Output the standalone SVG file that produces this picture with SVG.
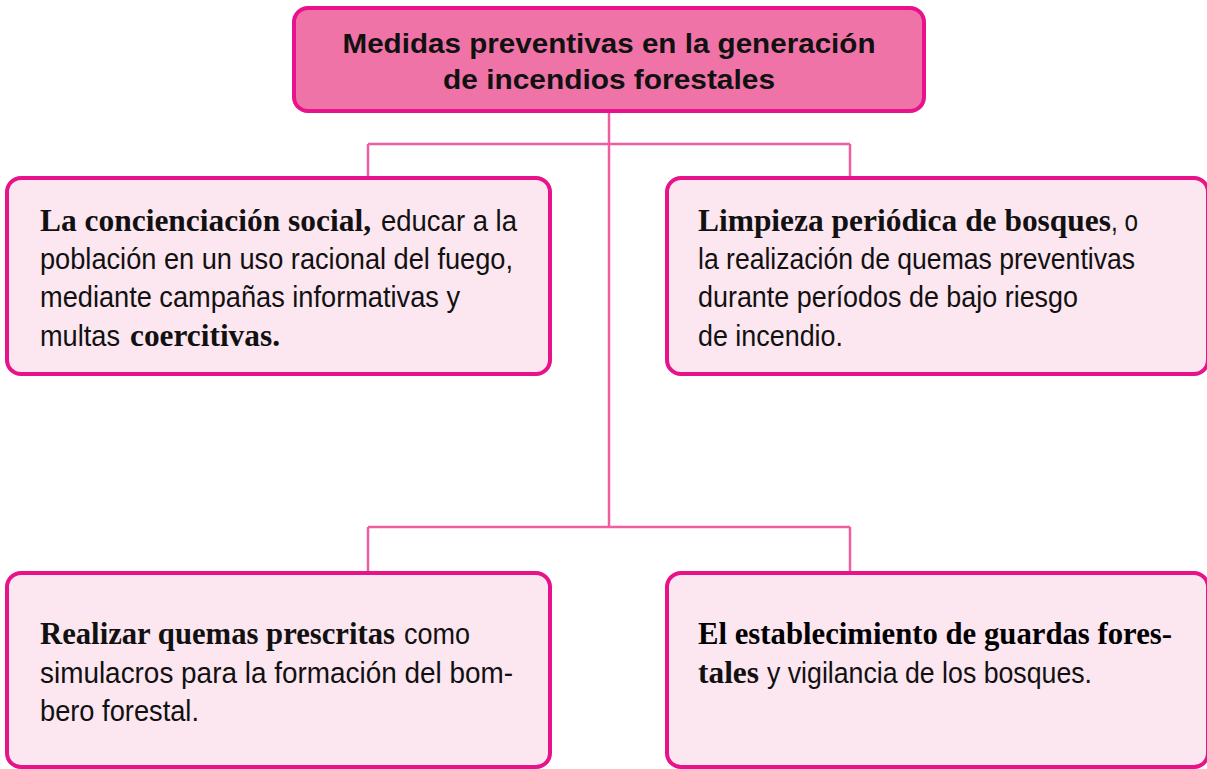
<svg xmlns="http://www.w3.org/2000/svg" width="1207" height="769" viewBox="0 0 1207 769">
<style>
.box{fill:#fce6f0;stroke:#e8128a;stroke-width:4}
.title{fill:#f073a8;stroke:#e8128a;stroke-width:4}
.conn{fill:none;stroke:#ef5fa0;stroke-width:2.5}
.t{font-family:"Liberation Sans",Arial,sans-serif;font-size:29px;fill:#111}
.h{font-family:"Liberation Sans",Arial,sans-serif;font-weight:bold;font-size:28px;fill:#111}
.b{font-family:"Liberation Serif","Times New Roman",serif;font-weight:bold;font-size:31px}
</style>
<rect width="1207" height="769" fill="#fff"/>
<g id="connectors">
<path class="conn" d="M609 111 V527 M368 144 H850 M368 144 V178 M850 144 V178 M368 527 H850 M368 527 V573 M850 527 V573"/>
</g>
<g id="n0">
<rect class="title" x="294" y="8" width="630" height="103" rx="14"/>
<text class="h" x="609" y="53" text-anchor="middle" textLength="533" lengthAdjust="spacingAndGlyphs">Medidas preventivas en la generación</text>
<text class="h" x="609" y="89" text-anchor="middle" textLength="332" lengthAdjust="spacingAndGlyphs">de incendios forestales</text>
</g>
<g id="n1">
<rect class="box" x="7" y="178" width="543" height="196" rx="14"/>
<text class="t" y="231"><tspan class="b" x="40" textLength="331" lengthAdjust="spacingAndGlyphs">La concienciación social,</tspan><tspan x="381" textLength="136" lengthAdjust="spacingAndGlyphs">educar a la</tspan></text>
<text class="t" x="40" y="269" textLength="473" lengthAdjust="spacingAndGlyphs">población en un uso racional del fuego,</text>
<text class="t" x="40" y="307" textLength="420" lengthAdjust="spacingAndGlyphs">mediante campañas informativas y</text>
<text class="t" y="346"><tspan x="40" textLength="80" lengthAdjust="spacingAndGlyphs">multas</tspan><tspan class="b" x="130" textLength="150" lengthAdjust="spacingAndGlyphs">coercitivas.</tspan></text>
</g>
<g id="n2">
<rect class="box" x="667" y="178" width="541" height="196" rx="14"/>
<text class="t" y="231"><tspan class="b" x="698" textLength="413" lengthAdjust="spacingAndGlyphs">Limpieza periódica de bosques</tspan><tspan x="1111" textLength="27" lengthAdjust="spacingAndGlyphs">, o</tspan></text>
<text class="t" x="698" y="269" textLength="437" lengthAdjust="spacingAndGlyphs">la realización de quemas preventivas</text>
<text class="t" x="698" y="307" textLength="380" lengthAdjust="spacingAndGlyphs">durante períodos de bajo riesgo</text>
<text class="t" x="698" y="346" textLength="145" lengthAdjust="spacingAndGlyphs">de incendio.</text>
</g>
<g id="n3">
<rect class="box" x="7" y="573" width="543" height="194" rx="14"/>
<text class="t" y="644"><tspan class="b" x="40" textLength="355" lengthAdjust="spacingAndGlyphs">Realizar quemas prescritas</tspan><tspan x="404" textLength="66" lengthAdjust="spacingAndGlyphs">como</tspan></text>
<text class="t" x="40" y="683" textLength="473" lengthAdjust="spacingAndGlyphs">simulacros para la formación del bom-</text>
<text class="t" x="40" y="721" textLength="159" lengthAdjust="spacingAndGlyphs">bero forestal.</text>
</g>
<g id="n4">
<rect class="box" x="667" y="573" width="541" height="194" rx="14"/>
<text class="b" x="698" y="644" textLength="474" lengthAdjust="spacingAndGlyphs">El establecimiento de guardas fores-</text>
<text class="t" y="683"><tspan class="b" x="698" textLength="61" lengthAdjust="spacingAndGlyphs">tales</tspan><tspan x="767" textLength="325" lengthAdjust="spacingAndGlyphs">y vigilancia de los bosques.</tspan></text>
</g>
</svg>
